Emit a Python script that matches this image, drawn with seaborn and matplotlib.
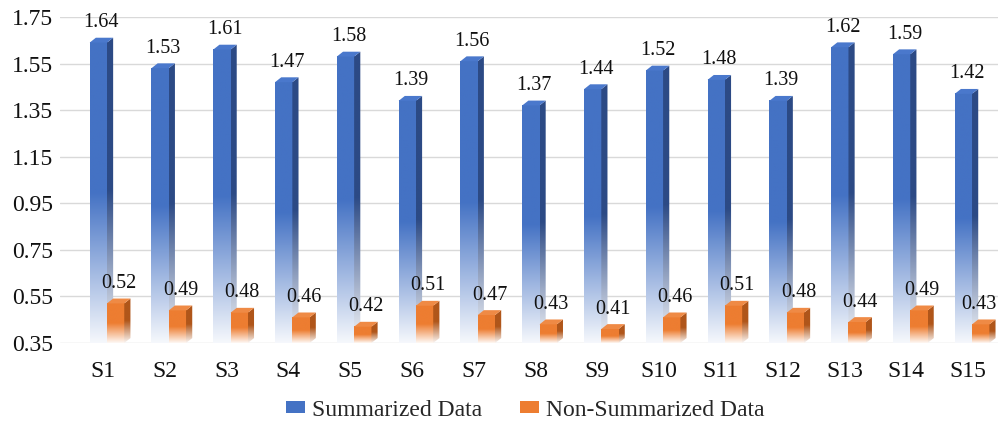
import numpy as np
import pandas as pd
import matplotlib
matplotlib.use("Agg")
import matplotlib.pyplot as plt
from matplotlib.patches import Polygon, Patch
from matplotlib.colors import to_rgb
from matplotlib.transforms import ScaledTranslation
import seaborn as sns

# ---- data -------------------------------------------------------------
samples = [f"S{i}" for i in range(1, 16)]
summarized = [1.64, 1.53, 1.61, 1.47, 1.58, 1.39, 1.56, 1.37, 1.44, 1.52,
              1.48, 1.39, 1.62, 1.59, 1.42]
non_summarized = [0.52, 0.49, 0.48, 0.46, 0.42, 0.51, 0.47, 0.43, 0.41, 0.46,
                  0.51, 0.48, 0.44, 0.49, 0.43]
series_names = ["Summarized Data", "Non-Summarized Data"]
y_ticks = [0.35, 0.55, 0.75, 0.95, 1.15, 1.35, 1.55, 1.75]

df = pd.DataFrame({
    "sample": samples * 2,
    "value": summarized + non_summarized,
    "series": [series_names[0]] * len(samples) + [series_names[1]] * len(samples),
})

front_colors = ["#4472C4", "#ED7D31"]
side_colors = ["#2C4A85", "#B0561A"]
top_colors = ["#4A78CC", "#EF8A45"]

sns.set_theme(style="white")
plt.rcParams["font.family"] = ["Liberation Serif", "DejaVu Serif"]

fig = plt.figure(figsize=(9.98, 4.23), dpi=100)
ax = fig.add_axes([60 / 998, 80 / 423, 938 / 998, 326 / 423])

sns.barplot(data=df, x="sample", y="value", hue="series", palette=front_colors,
            width=0.56, saturation=1, dodge=True, legend=False, ax=ax)

y_min, y_max = y_ticks[0], y_ticks[-1]

# depth of the pseudo-3D columns, in data units
dx = 0.10
dy = 0.021


def gradient_image(color, n=256, fade=0.5, floor=0.05):
    """Column image: solid colour on top, fading to white near the floor."""
    t = np.linspace(0, 1, n)
    f = floor + (1 - floor) * np.clip(t / fade, 0, 1)
    c = np.array(to_rgb(color))
    rgb = (1 - f)[:, None] * np.ones(3) + f[:, None] * c
    return rgb[:, None, :]


value_labels = []
for k, container in enumerate(ax.containers):
    z = 2 + k
    for bar in container:
        x0 = bar.get_x()
        w = bar.get_width()
        x1 = x0 + w
        top = bar.get_y() + bar.get_height()
        bar.set_visible(False)

        # front face with vertical fade
        ax.imshow(gradient_image(front_colors[k]), extent=[x0, x1, y_min, top],
                  origin="lower", aspect="auto", interpolation="bilinear", zorder=z)

        # right side face
        side = Polygon([(x1, y_min), (x1 + dx, y_min + dy), (x1 + dx, top + dy), (x1, top)],
                       closed=True, facecolor="none", edgecolor="none", zorder=z)
        ax.add_patch(side)
        im = ax.imshow(gradient_image(side_colors[k]), extent=[x1, x1 + dx, y_min, top + dy],
                       origin="lower", aspect="auto", interpolation="bilinear", zorder=z)
        im.set_clip_path(side)

        # top face
        ax.add_patch(Polygon([(x0, top), (x1, top), (x1 + dx, top + dy), (x0 + dx, top + dy)],
                             closed=True, facecolor=top_colors[k], edgecolor="none", zorder=z))

        value_labels.append(
            ax.annotate(f"{top:.2f}", xy=(x0 + (w + dx) / 2, top + dy), xytext=(0, 4),
                        textcoords="offset points", ha="center", va="bottom",
                        fontsize=14.5, color="#111111", zorder=10, annotation_clip=False))

ax.set_ylim(y_min, y_max)
ax.set_xlim(-0.76, len(samples) - 1 + 0.42)
ax.set_yticks(y_ticks)
ax.set_yticklabels([f"{v:.2f}" for v in y_ticks])
for v in y_ticks:
    ax.axhline(v, color="#D9D9D9", linewidth=1.0, zorder=0.5)

ax.set_xlabel("")
ax.set_ylabel("")
for s in ax.spines.values():
    s.set_visible(False)
ax.tick_params(axis="y", length=0, pad=5, labelsize=17, labelcolor="#111111")
ax.tick_params(axis="x", length=0, pad=13, labelsize=17, labelcolor="#111111")
shift = ScaledTranslation(-4 / 100, 0, fig.dpi_scale_trans)
for lab in ax.get_xticklabels():
    lab.set_transform(lab.get_transform() + shift)

handles = [Patch(facecolor=c, edgecolor="none", label=n) for c, n in zip(front_colors, series_names)]
fig.legend(handles=handles, loc="lower center", bbox_to_anchor=(0.526, -0.045), ncol=2,
           frameon=False, fontsize=17, handlelength=0.8, handleheight=0.4,
           handletextpad=0.3, columnspacing=1.6)

# keep value labels inside the canvas
fig.canvas.draw()
renderer = fig.canvas.get_renderer()
fig_w = fig.bbox.width
for t in value_labels:
    bb = t.get_window_extent(renderer)
    overflow = bb.x1 - (fig_w - 2)
    if overflow > 0:
        ox, oy = t.xyann
        t.xyann = (ox - overflow * 72 / fig.dpi, oy)

fig.savefig("out.png", dpi=100)
